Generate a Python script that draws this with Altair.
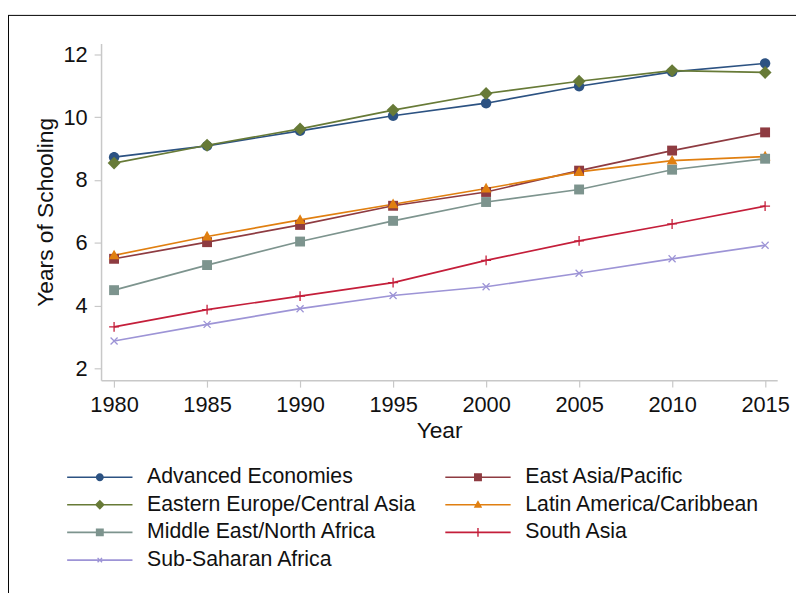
import math
import altair as alt
import pandas as pd

# ==================== data ====================
YEARS = [1980, 1985, 1990, 1995, 2000, 2005, 2010, 2015]
REGIONS = [
    "Advanced Economies",
    "East Asia/Pacific",
    "Eastern Europe/Central Asia",
    "Latin America/Caribbean",
    "Middle East/North Africa",
    "South Asia",
    "Sub-Saharan Africa",
]
ADVANCED = [8.73, 9.09, 9.57, 10.05, 10.45, 10.99, 11.45, 11.72]
EAST_ASIA = [5.49, 6.02, 6.57, 7.18, 7.62, 8.30, 8.94, 9.52]
EASTERN_EUROPE = [8.54, 9.11, 9.63, 10.23, 10.76, 11.15, 11.49, 11.43]
LATIN_AMERICA = [5.60, 6.20, 6.73, 7.23, 7.73, 8.26, 8.62, 8.75]
MIDDLE_EAST = [4.49, 5.29, 6.04, 6.70, 7.30, 7.70, 8.33, 8.68]
SOUTH_ASIA = [3.32, 3.87, 4.30, 4.73, 5.44, 6.06, 6.60, 7.17]
SUB_SAHARAN = [2.87, 3.40, 3.90, 4.32, 4.60, 5.03, 5.49, 5.92]
SERIES = [ADVANCED, EAST_ASIA, EASTERN_EUROPE, LATIN_AMERICA,
          MIDDLE_EAST, SOUTH_ASIA, SUB_SAHARAN]

# ==================== styles ====================
COLORS = ["#2c5282", "#8e3b41", "#677a37", "#e07f10",
          "#7d948e", "#c41e3a", "#9d94d6"]
MARKERS = ["circle", "square", "diamond", "triangle",
           "square", "plus", "x"]
FONT = "Liberation Sans"
PLOT_W, PLOT_H = 683, 340
PAD = {"left": 94, "top": 33, "right": 19, "bottom": 212}


def polygon(points):
    # clockwise on screen (y down) so sub-paths union under nonzero fill
    area = sum(x0 * y1 - x1 * y0 for (x0, y0), (x1, y1)
               in zip(points, points[1:] + points[:1]))
    if area < 0:
        points = points[::-1]
    head = "M%.3f,%.3f" % points[0]
    return head + "".join("L%.3f,%.3f" % p for p in points[1:]) + "Z"


def marker_path(kind, r, w=0.12, cx=0.0):
    if kind == "circle":
        return "M%.3f,0A%.3f,%.3f 0 1,1 %.3f,0A%.3f,%.3f 0 1,1 %.3f,0Z" % (
            cx + r, r, r, cx - r, r, r, cx + r)
    if kind == "square":
        pts = [(-r, -r), (r, -r), (r, r), (-r, r)]
    elif kind == "diamond":
        pts = [(0, -r), (r, 0), (0, r), (-r, 0)]
    elif kind == "triangle":
        pts = [(0, -r), (0.95 * r, 0.7 * r), (-0.95 * r, 0.7 * r)]
    else:
        pts = [(-w, -r), (w, -r), (w, -w), (r, -w), (r, w), (w, w),
               (w, r), (-w, r), (-w, w), (-r, w), (-r, -w), (-w, -w)]
        if kind == "x":
            c = math.cos(math.pi / 4)
            pts = [(x * c - y * c, x * c + y * c) for x, y in pts]
    return polygon([(x + cx, y) for x, y in pts])


PLOT_R = {"circle": 1.05, "square": 1.0, "diamond": 1.3, "triangle": 1.15,
          "plus": 1.0, "x": 1.0}
plot_shapes = [marker_path(m, PLOT_R[m], 0.13) for m in MARKERS]

# legend glyph: a 66px line with a small marker in its middle (10px per unit)
LEGEND_R = {"circle": 0.4, "square": 0.4, "diamond": 0.5, "triangle": 0.45,
            "plus": 0.45, "x": 0.32}
legend_shapes = [
    polygon([(-1, -0.08), (5.6, -0.08), (5.6, 0.08), (-1, 0.08)])
    + marker_path(m, LEGEND_R[m], 0.07, cx=2.3)
    for m in MARKERS
]

rows = []
for region, values in zip(REGIONS, SERIES):
    for year, v in zip(YEARS, values):
        rows.append({"region": region, "year": year, "value": v})
df = pd.DataFrame(rows)

x_enc = alt.X("year:Q", title="Year",
              scale=alt.Scale(domain=[1979.3, 2015.65], nice=False, zero=False),
              axis=alt.Axis(values=YEARS, format="d"))
y_enc = alt.Y("value:Q", title="Years of Schooling",
              scale=alt.Scale(domain=[1.62, 12.35], nice=False, zero=False),
              axis=alt.Axis(values=[2, 4, 6, 8, 10, 12]))

legend = alt.Legend(
    title=None, orient="none", legendX=-35, legendY=427,
    direction="horizontal", columns=2, columnPadding=28, rowPadding=5,
    symbolSize=400, symbolStrokeWidth=0, symbolOpacity=1, labelOffset=60,
    labelFontSize=21.5, labelFont=FONT, labelColor="#111111",
    labelLimit=400,
)
color_enc = alt.Color("region:N", legend=legend,
                      scale=alt.Scale(domain=REGIONS, range=COLORS))

base = alt.Chart(df)

# carries the legend only; its own glyphs are drawn with zero size
legend_layer = base.mark_point(filled=True, size=0, opacity=1).encode(
    x=x_enc, y=y_enc, color=color_enc,
    shape=alt.Shape("region:N", legend=legend,
                    scale=alt.Scale(domain=REGIONS, range=legend_shapes)),
)

lines = base.mark_line(strokeWidth=1.7).encode(
    x=x_enc, y=y_enc, color=color_enc,
)

# one point layer per region so each gets its own marker glyph
point_layers = [
    base.transform_filter(alt.datum.region == region).mark_point(
        filled=True, size=100, opacity=1, shape=shape
    ).encode(x=x_enc, y=y_enc, color=color_enc)
    for region, shape in zip(REGIONS, plot_shapes)
]

frame_left = alt.Chart(pd.DataFrame({"k": [0]})).mark_rule(
    color="black", strokeWidth=1
).encode(x=alt.value(-93.5), y=alt.value(-28.5), y2=alt.value(560))
frame_top = alt.Chart(pd.DataFrame({"k": [0]})).mark_rule(
    color="black", strokeWidth=1
).encode(x=alt.value(-94), x2=alt.value(710), y=alt.value(-28.5))

chart = alt.layer(
    legend_layer, lines, *point_layers, frame_left, frame_top
).properties(
    width=PLOT_W, height=PLOT_H,
    autosize=alt.AutoSizeParams(type="none"),
    padding=PAD,
).configure_view(
    stroke=None
).configure_axis(
    grid=False,
    domainColor="#c8c8c8", domainWidth=1.5,
    tickColor="#c8c8c8", tickWidth=1.2, tickSize=7,
    labelFont=FONT, labelFontSize=22, labelColor="#111111",
    titleFont=FONT, titleFontSize=23, titleColor="#111111",
    titleFontWeight="normal",
).configure_axisX(
    labelPadding=8, titlePadding=4,
).configure_axisY(
    labelPadding=7, titlePadding=6,
)

chart.save("out.html", embed_options={"renderer": "svg", "actions": False})
